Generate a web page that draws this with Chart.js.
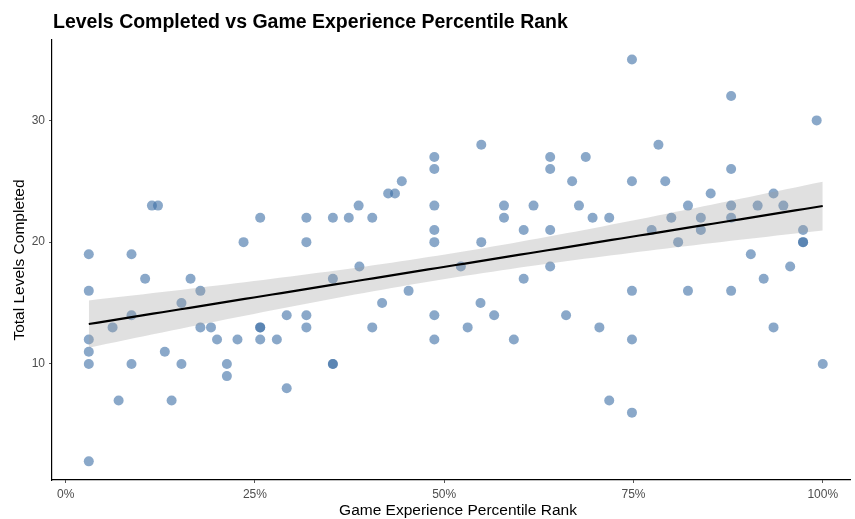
<!DOCTYPE html>
<html>
<head>
<meta charset="utf-8">
<title>Levels Completed vs Game Experience Percentile Rank</title>
<script src="https://cdn.jsdelivr.net/npm/chart.js@4.4.1/dist/chart.umd.min.js"></script>
<style>
  html, body { margin: 0; padding: 0; background: #ffffff; }
  #wrap { width: 855px; height: 519px; position: relative; }
</style>
</head>
<body>
<div id="wrap"><canvas id="levelsChart"></canvas></div>
<script>
// Percentile rank of game experience (%) and total levels completed per player.
const percentileRank = [
  3.06, 3.06, 3.06, 3.06, 3.06, 3.06, 6.2, 7.0, 8.7, 8.7,
  8.7, 10.5, 11.4, 12.2, 13.1, 14.0, 15.3, 15.3, 16.5, 17.8,
  17.8, 19.2, 20.0, 21.3, 21.3, 22.7, 23.5, 25.7, 25.7, 25.7,
  25.7, 27.9, 29.2, 29.2, 31.8, 31.8, 31.8, 31.8, 35.3, 35.3,
  35.3, 35.3, 37.4, 38.7, 38.8, 40.5, 40.5, 41.8, 42.6, 43.5,
  44.4, 45.3, 48.7, 48.7, 48.7, 48.7, 48.7, 48.7, 48.7, 52.2,
  53.1, 54.9, 54.9, 54.8, 56.6, 57.9, 57.9, 59.2, 60.5, 60.5,
  61.8, 64.0, 64.0, 64.0, 64.0, 66.1, 66.9, 67.8, 68.7, 69.6,
  70.5, 71.8, 71.8, 74.8, 74.8, 74.8, 74.8, 74.8, 77.4, 78.3,
  79.2, 80.0, 80.9, 82.2, 82.2, 83.9, 83.9, 85.2, 87.9, 87.9,
  87.9, 87.9, 87.9, 90.5, 91.4, 92.2, 93.5, 93.5, 94.8, 95.7,
  97.4, 97.4, 97.4, 99.2, 100
];
const levelsCompleted = [
  19, 16, 12, 11, 10, 2, 13, 7, 19, 14,
  10, 17, 23, 23, 11, 7, 15, 10, 17, 16,
  13, 13, 12, 10, 9, 12, 20, 22, 13, 13,
  12, 12, 14, 8, 22, 20, 14, 13, 22, 17,
  10, 10, 22, 23, 18, 22, 13, 15, 24, 24,
  25, 16, 27, 26, 23, 21, 20, 14, 12, 18,
  13, 28, 20, 15, 14, 23, 22, 12, 21, 17,
  23, 27, 26, 21, 18, 14, 25, 23, 27, 22,
  13, 22, 7, 35, 25, 16, 12, 6, 21, 28,
  25, 22, 20, 23, 16, 22, 21, 24, 32, 26,
  23, 22, 16, 19, 23, 17, 24, 13, 23, 18,
  21, 20, 20, 30, 10
];

const xTicks = [0, 25, 50, 75, 100];
const yTicks = [10, 20, 30];

const FONT = '"Liberation Sans", Arial, Helvetica, sans-serif';

// Ordinary least squares fit with a 95% confidence band (like lm smoothing).
function linearFit(xs, ys) {
  const n = xs.length;
  const mx = xs.reduce((a, b) => a + b, 0) / n;
  const my = ys.reduce((a, b) => a + b, 0) / n;
  let sxx = 0;
  let sxy = 0;
  for (let i = 0; i < n; i++) {
    sxx += (xs[i] - mx) ** 2;
    sxy += (xs[i] - mx) * (ys[i] - my);
  }
  const slope = sxy / sxx;
  const intercept = my - slope * mx;
  let sse = 0;
  for (let i = 0; i < n; i++) {
    sse += (ys[i] - (intercept + slope * xs[i])) ** 2;
  }
  const s = Math.sqrt(sse / (n - 2));
  const t = 1.981; // t quantile, 113 degrees of freedom
  const xmin = Math.min(...xs);
  const xmax = Math.max(...xs);
  const line = [];
  const upper = [];
  const lower = [];
  const steps = 80;
  for (let k = 0; k <= steps; k++) {
    const x = xmin + (xmax - xmin) * k / steps;
    const fit = intercept + slope * x;
    const se = s * Math.sqrt(1 / n + (x - mx) ** 2 / sxx);
    line.push({ x, y: fit });
    upper.push({ x, y: fit + t * se });
    lower.push({ x, y: fit - t * se });
  }
  return { line, upper, lower };
}

const points = percentileRank.map((x, i) => ({ x, y: levelsCompleted[i] }));
const fit = linearFit(percentileRank, levelsCompleted);

// Plot title flush with the plot's left edge, x-axis title centred under the panel
const plotText = {
  id: 'plotText',
  afterDraw(chart) {
    const { ctx, chartArea } = chart;
    ctx.save();
    ctx.fillStyle = '#000000';
    ctx.textBaseline = 'alphabetic';
    ctx.font = `bold 19.5px ${FONT}`;
    ctx.textAlign = 'left';
    ctx.fillText('Levels Completed vs Game Experience Percentile Rank', chartArea.left + 1, 28);
    ctx.font = `15.5px ${FONT}`;
    ctx.textAlign = 'center';
    ctx.fillText('Game Experience Percentile Rank', 458, 515);
    ctx.restore();
  },
};

const ctx = document.getElementById('levelsChart').getContext('2d');
new Chart(ctx, {
  type: 'scatter',
  data: {
    datasets: [
      {
        label: 'Fit',
        data: fit.line,
        showLine: true,
        borderColor: '#000000',
        borderWidth: 2.2,
        pointRadius: 0,
        fill: false,
        order: 1,
      },
      {
        label: 'Upper',
        data: fit.upper,
        showLine: true,
        borderWidth: 0,
        borderColor: 'rgba(0,0,0,0)',
        pointRadius: 0,
        fill: false,
        order: 2,
      },
      {
        label: 'Lower',
        data: fit.lower,
        showLine: true,
        borderWidth: 0,
        borderColor: 'rgba(0,0,0,0)',
        backgroundColor: 'rgba(153,153,153,0.3)',
        pointRadius: 0,
        fill: '-1',
        order: 2,
      },
      {
        label: 'Players',
        data: points,
        pointRadius: 5,
        pointHoverRadius: 5,
        pointBackgroundColor: 'rgba(60,110,165,0.6)',
        pointBorderWidth: 0,
        order: 3,
      },
    ],
  },
  options: {
    responsive: true,
    maintainAspectRatio: false,
    animation: false,
    layout: { padding: { top: 40, right: 0, bottom: 0, left: 0 } },
    plugins: {
      legend: { display: false },
      tooltip: { enabled: false },
    },
    scales: {
      x: {
        type: 'linear',
        min: -1.8,
        max: 103.6,
        afterFit(scale) { scale.height = 39; },
        afterBuildTicks(scale) { scale.ticks = xTicks.map(v => ({ value: v })); },
        border: { display: true, color: '#000000', width: 1.2 },
        grid: { drawOnChartArea: false, drawTicks: true, tickLength: 3, color: '#555555' },
        ticks: {
          padding: 4,
          color: '#4d4d4d',
          font: { family: FONT, size: 12 },
          callback: v => `${v}%`,
        },
      },
      y: {
        type: 'linear',
        min: 0.47,
        max: 36.6,
        afterFit(scale) { scale.width = 52; },
        afterBuildTicks(scale) { scale.ticks = yTicks.map(v => ({ value: v })); },
        border: { display: true, color: '#000000', width: 1.2 },
        grid: { drawOnChartArea: false, drawTicks: true, tickLength: 3, color: '#555555' },
        ticks: {
          padding: 4,
          color: '#4d4d4d',
          font: { family: FONT, size: 12 },
        },
        title: {
          display: true,
          text: 'Total Levels Completed',
          color: '#000000',
          font: { family: FONT, size: 15.5 },
          padding: { top: 10, bottom: 0 },
        },
      },
    },
  },
  plugins: [plotText],
});
</script>
</body>
</html>
